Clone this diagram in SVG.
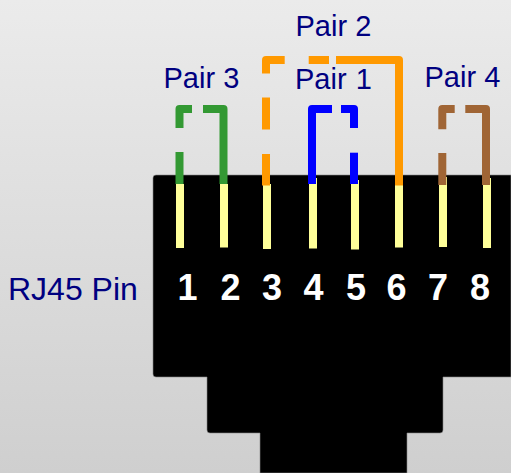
<svg xmlns="http://www.w3.org/2000/svg" width="511" height="473" viewBox="0 0 511 473">
<defs>
<linearGradient id="bg" x1="0" y1="0" x2="0" y2="1"><stop offset="0" stop-color="#ebebeb"/><stop offset="1" stop-color="#cfcfcf"/></linearGradient>
</defs>
<style>
.wire{fill:none;stroke-width:8;stroke-linejoin:round}
.pin{fill:#ffff99}
.lbl{font-family:"Liberation Sans",Arial,sans-serif;font-size:29px;fill:#000080}
.num{font-family:"Liberation Sans",Arial,sans-serif;font-size:36px;font-weight:bold;fill:#fff;text-anchor:middle}
</style>
<rect width="511" height="473" fill="url(#bg)"/>
<g id="connector-body">
<path d="M153 178Q153 175 156 175H511V377H443V430Q443 433 440 433H407V473H260V433H210Q207 433 207 430V377H156Q153 377 153 374Z" fill="#000" stroke="#888" stroke-width="0.6"/>
</g>
<g id="pins">
<rect id="pin1" class="pin" x="176" y="184" width="8" height="64"/>
<rect id="pin2" class="pin" x="220" y="184" width="8" height="63.500"/>
<rect id="pin3" class="pin" x="263" y="184" width="8" height="65"/>
<rect id="pin4" class="pin" x="309" y="178" width="8" height="70.500"/>
<rect id="pin5" class="pin" x="351" y="180" width="8" height="69.500"/>
<rect id="pin6" class="pin" x="395" y="178" width="8" height="69.500"/>
<rect id="pin7" class="pin" x="439" y="177" width="8" height="70"/>
<rect id="pin8" class="pin" x="483" y="178" width="8" height="70"/>
</g>
<g id="connectors">
<g id="pair3" stroke="#339933">
<path class="wire" d="M192 109H179.500V128"/><path class="wire" d="M179.500 152V184"/><path class="wire" d="M203 109H223.500V184"/>
</g>
<g id="pair2" stroke="#ff9900">
<path class="wire" d="M284.700 60H266V73.500"/><path class="wire" d="M266 97.500V129.500"/><path class="wire" d="M266 154V185.500"/><path class="wire" d="M308.700 60H329"/><path class="wire" d="M336 60H399V185.500"/>
</g>
<g id="pair1" stroke="#0000ff">
<path class="wire" d="M332 109H312V184"/><path class="wire" d="M341 109H354V128"/><path class="wire" d="M354 152.700V184"/>
</g>
<g id="pair4" stroke="#a06535">
<path class="wire" d="M454.700 109H442.300V129.300"/><path class="wire" d="M442.300 153V185"/><path class="wire" d="M465.300 109H486V185"/>
</g>
</g>
<g id="labels">
<text class="lbl" x="163.500" y="88">Pair 3</text>
<text class="lbl" x="295.500" y="36">Pair 2</text>
<text class="lbl" x="295" y="89">Pair<tspan dx="1"> 1</tspan></text>
<text class="lbl" x="424.500" y="87">Pair 4</text>
<text class="lbl" x="8" y="300" style="font-size:32px">RJ45 Pin</text>
</g>
<g id="numbers">
<text class="num" x="187.500" y="300">1</text>
<text class="num" x="230.500" y="300">2</text>
<text class="num" x="272" y="300">3</text>
<text class="num" x="313.500" y="300">4</text>
<text class="num" x="356" y="300">5</text>
<text class="num" x="396.500" y="300">6</text>
<text class="num" x="438" y="300">7</text>
<text class="num" x="480" y="300">8</text>
</g>
</svg>
